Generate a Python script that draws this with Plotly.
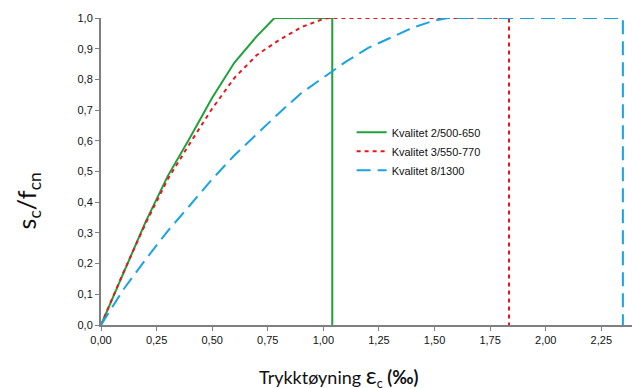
import plotly.graph_objects as go

# Data
green_eps = [0, 0.1, 0.2, 0.3, 0.4, 0.5, 0.6, 0.7, 0.78, 1.04, 1.04]
green_sig = [0, 0.17, 0.335, 0.485, 0.61, 0.74, 0.855, 0.94, 1.0, 1.0, 0]

red_eps = [0, 0.1, 0.2, 0.3, 0.4, 0.5, 0.6, 0.7, 0.8, 0.9, 1.0, 1.03, 1.835, 1.835]
red_sig = [0, 0.17, 0.33, 0.475, 0.592, 0.705, 0.805, 0.879, 0.928, 0.97, 0.997, 1.0, 1.0, 0]

blue_eps = [0, 0.1, 0.2, 0.3, 0.4, 0.5, 0.6, 0.7, 0.8, 0.9, 1.0, 1.1, 1.2, 1.3, 1.4, 1.5, 1.56, 2.347, 2.347]
blue_sig = [0, 0.115, 0.213, 0.306, 0.39, 0.475, 0.553, 0.623, 0.69, 0.755, 0.805, 0.857, 0.902, 0.934, 0.968, 0.992, 1.0, 1.0, 0]

names = ["Kvalitet 2/500-650", "Kvalitet 3/550-770", "Kvalitet 8/1300"]

x_ticks = [0, 0.25, 0.5, 0.75, 1.0, 1.25, 1.5, 1.75, 2.0, 2.25]
x_ticklabels = ["0,00", "0,25", "0,50", "0,75", "1,00", "1,25", "1,50", "1,75", "2,00", "2,25"]
y_ticks = [0, 0.1, 0.2, 0.3, 0.4, 0.5, 0.6, 0.7, 0.8, 0.9, 1.0]
y_ticklabels = ["0,0", "0,1", "0,2", "0,3", "0,4", "0,5", "0,6", "0,7", "0,8", "0,9", "1,0"]

fig = go.Figure()
fig.add_trace(go.Scatter(x=green_eps, y=green_sig, mode="lines", name=names[0],
                         line=dict(color="#1fa23a", width=2)))
fig.add_trace(go.Scatter(x=red_eps, y=red_sig, mode="lines", name=names[1],
                         line=dict(color="#e8161f", width=2, dash="4px,4px")))
fig.add_trace(go.Scatter(x=blue_eps, y=blue_sig, mode="lines", name=names[2],
                         line=dict(color="#1aa3e3", width=2, dash="14px,7px")))

axis_common = dict(showgrid=False, zeroline=False, showline=True, linecolor="#7f7f7f",
                   linewidth=2, ticks="outside", tickcolor="#7f7f7f", ticklen=4, tickwidth=1,
                   tickfont=dict(family="Liberation Sans, Arial", size=11, color="#111"))

fig.update_layout(
    width=632, height=388,
    margin=dict(l=101, r=0, t=18, b=63),
    paper_bgcolor="white", plot_bgcolor="white",
    showlegend=True,
    legend=dict(x=0.472, y=0.675, xanchor="left", yanchor="top",
                font=dict(family="Liberation Sans, Arial", size=11, color="#111"),
                bgcolor="rgba(0,0,0,0)", tracegroupgap=0),
    xaxis=dict(range=[0, 2.388], tickvals=x_ticks, ticktext=x_ticklabels, **axis_common),
    yaxis=dict(range=[0, 1.0], tickvals=y_ticks, ticktext=y_ticklabels, **axis_common),
    annotations=[
        dict(text="s<sub>c</sub>/f<sub>cn</sub>", xref="paper", yref="paper",
             x=-0.138, y=0.405, xanchor="center", yanchor="middle", textangle=-90,
             showarrow=False, font=dict(family="Lato, Liberation Sans", size=25, color="#111")),
        dict(text="Trykktøyning <span style='font-size:24px'>ε</span><sub>c</sub> <b>(‰)</b>",
             xref="paper", yref="paper", x=0.448, y=-0.165, xanchor="center", yanchor="middle",
             showarrow=False, font=dict(family="Lato, Liberation Sans", size=18, color="#111")),
    ],
)

fig.write_html("out.html", config={"displayModeBar": False},
               post_script="document.body.style.margin='0';document.body.style.padding='0';")
